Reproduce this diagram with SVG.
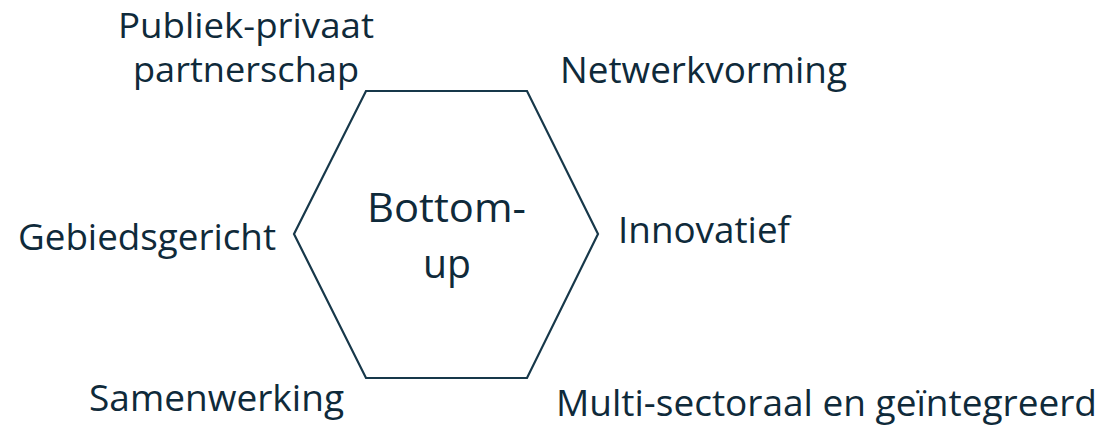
<svg xmlns="http://www.w3.org/2000/svg" width="1105" height="426" viewBox="0 0 1105 426">
<style>
  text { font-family: "Open Sans", "Noto Sans", "Liberation Sans", sans-serif; font-size: 37px; fill: #0f2a3a; }
  .big { font-size: 41px; }
  .two { font-size: 35px; }
  .hex { fill: none; stroke: #17384a; stroke-width: 2.2; stroke-linejoin: miter; }
</style>
<rect width="1105" height="426" fill="#ffffff"/>
<g id="center">
  <polygon class="hex" points="366,91 527,91 598,234 527,378 366,378 294,234"/>
  <text class="big" x="367" y="222" textLength="159" lengthAdjust="spacingAndGlyphs">Bottom-</text>
  <text class="big" x="423" y="278" textLength="48" lengthAdjust="spacingAndGlyphs">up</text>
</g>
<g id="connectors"></g>
<g id="publiek-privaat">
  <text class="two" x="118" y="38" textLength="256" lengthAdjust="spacingAndGlyphs">Publiek-privaat</text>
  <text class="two" x="133" y="82" textLength="226" lengthAdjust="spacingAndGlyphs">partnerschap</text>
</g>
<g id="netwerkvorming">
  <text x="560" y="83" textLength="287" lengthAdjust="spacingAndGlyphs">Netwerkvorming</text>
</g>
<g id="gebiedsgericht">
  <text x="18" y="250" textLength="258" lengthAdjust="spacingAndGlyphs">Gebiedsgericht</text>
</g>
<g id="innovatief">
  <text x="618" y="243" textLength="172" lengthAdjust="spacingAndGlyphs">Innovatief</text>
</g>
<g id="samenwerking">
  <text x="89" y="411" textLength="255" lengthAdjust="spacingAndGlyphs">Samenwerking</text>
</g>
<g id="multi-sectoraal">
  <text x="556" y="416" textLength="541" lengthAdjust="spacingAndGlyphs">Multi-sectoraal en geïntegreerd</text>
</g>
</svg>
